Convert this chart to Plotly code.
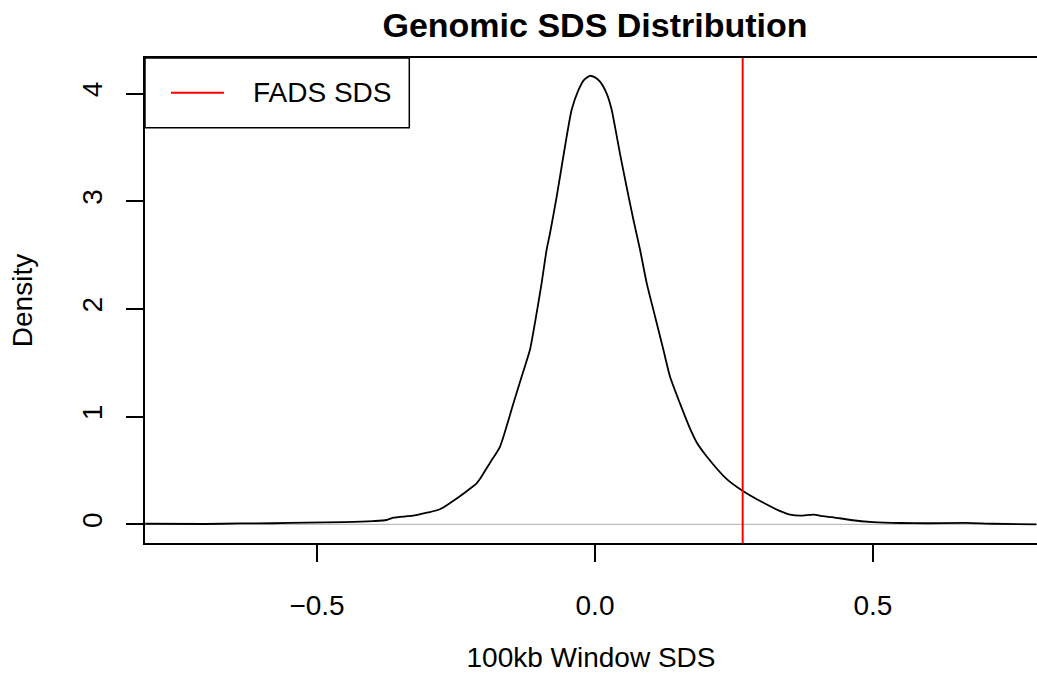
import plotly.graph_objects as go

# Density curve of genomic 100kb-window SDS
sds_x = [-0.809, -0.70, -0.638, -0.58, -0.519, -0.45, -0.399, -0.375, -0.363, -0.327,
         -0.30, -0.279, -0.26, -0.243, -0.225, -0.213, -0.207, -0.189, -0.171,
         -0.147, -0.132, -0.117, -0.108, -0.096, -0.087, -0.081, -0.069, -0.060, -0.051,
         -0.042, -0.030, -0.020, -0.009, 0.000, 0.009, 0.021, 0.030, 0.036, 0.045,
         0.057, 0.069, 0.081, 0.093, 0.108, 0.123, 0.135, 0.153, 0.170, 0.183,
         0.201, 0.237, 0.266, 0.303, 0.330, 0.351, 0.370, 0.393, 0.410, 0.429,
         0.460, 0.500, 0.550, 0.597, 0.668, 0.716, 0.794]
density = [0.005, 0.003, 0.008, 0.010, 0.015, 0.020, 0.030, 0.040, 0.062, 0.080,
           0.110, 0.140, 0.200, 0.260, 0.330, 0.380, 0.420, 0.570, 0.720,
           1.120, 1.370, 1.620, 1.870, 2.240, 2.550, 2.700, 3.040, 3.320, 3.600,
           3.850, 4.030, 4.125, 4.165, 4.150, 4.110, 4.000, 3.850, 3.690, 3.440,
           3.130, 2.830, 2.550, 2.240, 1.930, 1.620, 1.370, 1.120, 0.900, 0.760,
           0.630, 0.420, 0.310, 0.200, 0.130, 0.090, 0.080, 0.090, 0.075, 0.065,
           0.040, 0.021, 0.012, 0.010, 0.013, 0.005, 0.000]

fads_sds = 0.2656
legend_label = "FADS SDS"
x_ticks = [-0.5, 0.0, 0.5]
x_ticklabels = ["\u22120.5", "0.0", "0.5"]
y_ticks = [0, 1, 2, 3, 4]

X_RANGE = [-0.8094, 0.7950]
Y_RANGE = [-0.1736, 4.330]

FONT = "Liberation Sans, Arial, Helvetica, sans-serif"

fig = go.Figure()

# zero line (gray)
fig.add_trace(go.Scatter(x=X_RANGE, y=[0, 0], mode="lines",
                         line=dict(color="#BEBEBE", width=1.2),
                         showlegend=False, hoverinfo="skip"))
# density curve
fig.add_trace(go.Scatter(x=sds_x, y=density, mode="lines",
                         line=dict(color="black", width=1.8, shape="spline", smoothing=0.6),
                         showlegend=False))
# FADS SDS vertical line
fig.add_trace(go.Scatter(x=[fads_sds, fads_sds], y=Y_RANGE, mode="lines",
                         line=dict(color="#FF0000", width=2),
                         name=legend_label, showlegend=False))

# legend box (drawn like R's legend())
fig.add_shape(type="rect", xref="paper", yref="paper",
              x0=0, x1=0.2963, y0=0.8563, y1=1,
              line=dict(color="black", width=1.5), fillcolor="white", layer="above")
fig.add_shape(type="line", xref="paper", yref="paper",
              x0=(171 - 145) / 892, x1=(224 - 145) / 892,
              y0=1 - (92.7 - 58) / 485, y1=1 - (92.7 - 58) / 485,
              line=dict(color="#FF0000", width=2), layer="above")
fig.add_annotation(text=legend_label, xref="paper", yref="paper",
                   x=(251 - 145) / 892, y=1 - (92.5 - 58) / 485,
                   xanchor="left", yanchor="middle", showarrow=False,
                   font=dict(family=FONT, size=28, color="black"))

fig.update_layout(
    width=1037, height=684,
    margin=dict(l=145, r=0, t=58, b=141),
    paper_bgcolor="white", plot_bgcolor="white",
    font=dict(family=FONT, size=28, color="black"),
    showlegend=False,
    title=dict(text="<b>Genomic SDS Distribution</b>", x=(595 - 145) / 892, xref="paper",
               xanchor="center", y=1 - 25 / 684, yref="container", yanchor="middle",
               font=dict(family=FONT, size=34, color="black")),
)

fig.update_xaxes(range=X_RANGE, showgrid=False, zeroline=False,
                 showline=True, linecolor="black", linewidth=2, mirror=True,
                 ticks="outside", ticklen=17, tickwidth=1.5, tickcolor="black",
                 tickvals=x_ticks, ticktext=x_ticklabels,
                 tickfont=dict(family=FONT, size=28), ticklabelstandoff=19,
                 title=dict(text="100kb Window SDS", font=dict(family=FONT, size=28), standoff=28))
fig.update_yaxes(range=Y_RANGE, showgrid=False, zeroline=False,
                 showline=True, linecolor="black", linewidth=2, mirror=False,
                 ticks="outside", ticklen=17, tickwidth=1.5, tickcolor="black",
                 tickvals=y_ticks, tickangle=-90,
                 tickfont=dict(family=FONT, size=28), ticklabelstandoff=13,
                 title=dict(text="Density", font=dict(family=FONT, size=28), standoff=36))

# remove the page's default 8px body margin so the figure fills the window exactly
fig.write_html("out.html", config={"displayModeBar": False},
               post_script="document.body.style.margin='0';")
